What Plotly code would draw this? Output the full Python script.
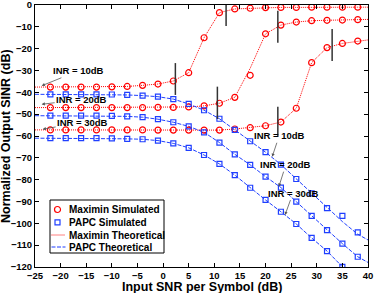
import plotly.graph_objects as go

# ---------------- data ----------------
snr = [-22, -19, -16, -13, -10, -7, -4, -1, 2, 5, 8, 11, 14, 17, 20, 23, 26, 29, 32, 35, 38]

maximin_sim_inr10 = [-37.6, -37.6, -37.6, -37.6, -37.5, -37.3, -36.8, -36.2, -34.8, -31.0, -15.0,
                     -3.5, -1.8, -1.5, -1.2, -1.1, -1.1, -1.0, -1.0, -1.0, -1.0]
maximin_sim_inr20 = [-47.0, -47.0, -47.0, -47.0, -47.0, -47.0, -47.0, -46.9, -46.9, -46.7, -46.2,
                     -45.0, -42.3, -32.2, -13.2, -9.2, -7.8, -7.2, -7.0, -6.9, -6.7]
maximin_sim_inr30 = [-57.2, -57.2, -57.2, -57.2, -57.2, -57.2, -57.2, -57.3, -57.3, -57.3, -57.3,
                     -57.3, -56.8, -56.2, -55.3, -53.6, -47.3, -26.4, -19.5, -17.6, -16.5]

papc_sim_inr10 = [-40.9, -40.9, -40.9, -40.9, -41.0, -41.2, -41.5, -42.0, -43.1, -45.3, -48.2,
                  -52.1, -57.2, -62.4, -67.4, -73.1, -79.7, -86.3, -93.0, -96.6, -104.1]
papc_sim_inr20 = [-50.7, -50.7, -50.7, -50.7, -50.8, -51.0, -51.4, -52.3, -53.7, -55.6, -58.3,
                  -63.0, -68.4, -73.2, -78.6, -83.6, -90.1, -96.6, -103.1, -109.3, -115.3]
papc_sim_inr30 = [-61.0, -61.0, -61.0, -61.0, -61.1, -61.3, -61.5, -62.1, -63.4, -65.4, -68.7,
                  -72.8, -77.9, -83.7, -89.3, -94.7, -100.3, -106.7, -112.7, -119.9, -126.0]

theory_snr = [-25, -22, -19, -16, -13, -10, -7, -4, -1, 2, 5, 8, 11, 14, 17, 20, 23, 26, 29, 32, 35, 38, 40]
maximin_th_inr10 = [-37.6, -37.6, -37.6, -37.6, -37.6, -37.5, -37.3, -36.8, -36.2, -34.8, -31.0, -15.0,
                    -3.5, -1.8, -1.5, -1.2, -1.1, -1.1, -1.0, -1.0, -1.0, -1.0, -1.0]
maximin_th_inr20 = [-47.0, -47.0, -47.0, -47.0, -47.0, -47.0, -47.0, -47.0, -46.9, -46.9, -46.7, -46.2,
                    -45.0, -42.3, -29.0, -13.2, -9.2, -7.8, -7.2, -7.0, -6.9, -6.7, -6.6]
maximin_th_inr30 = [-57.2, -57.2, -57.2, -57.2, -57.2, -57.2, -57.2, -57.2, -57.3, -57.3, -57.3, -57.3,
                    -57.3, -56.8, -56.2, -55.3, -53.6, -47.3, -26.4, -19.5, -17.6, -16.5, -16.0]
papc_th_inr10 = [-40.9, -40.9, -40.9, -40.9, -40.9, -41.0, -41.2, -41.5, -42.0, -43.1, -45.3, -48.2,
                 -52.1, -57.2, -62.4, -67.4, -73.1, -79.7, -86.3, -93.0, -99.2, -105.0, -107.6]
papc_th_inr20 = [-50.7, -50.7, -50.7, -50.7, -50.7, -50.8, -51.0, -51.4, -52.3, -53.7, -55.6, -58.3,
                 -63.0, -68.4, -73.2, -78.6, -83.6, -90.1, -96.6, -103.1, -109.3, -115.3, -117.9]
papc_th_inr30 = [-61.0, -61.0, -61.0, -61.0, -61.0, -61.1, -61.3, -61.5, -62.1, -63.4, -65.4, -68.7,
                 -72.8, -77.9, -83.7, -89.3, -94.7, -100.3, -106.7, -112.7, -119.9, -126.0, -130.0]

# threshold marker segments: x, y_top, y_bottom
thr_x = [2.4, 12.3, 22.4, 33.0, 10.6, 22.4]
thr_y0 = [-26.6, 0.0, -2.6, -11.0, -37.4, -46.6]
thr_y1 = [-41.2, -9.6, -17.3, -25.6, -52.2, -60.2]

# INR labels: head x, head y, text offset px (ax, ay)
inr_labels = ["INR = 10dB", "INR = 20dB", "INR = 30dB", "INR = 10dB", "INR = 20dB", "INR = 30dB"]
inr_head_x = [-23.7, -23.7, -23.5, 21.3, 22.6, 23.8]
inr_head_y = [-37.0, -45.5, -56.9, -69.5, -83.2, -96.2]
inr_ax = [37, 40, 40, 7, 7, 8]
inr_ay = [-15, -5, -7, -21, -22, -22]

legend_names = ["Maximin Simulated", "PAPC Simulated", "Maximin Theoretical", "PAPC Theoretical"]

RED = "#ff0000"
BLUE = "#1f3fff"
RED_DASH = "1px,1px"
BLUE_DASH = "4px,1.5px"
FONT = "Liberation Sans, Arial, sans-serif"

fig = go.Figure()

# theoretical lines (drawn first, underneath markers)
for ys in [maximin_th_inr10, maximin_th_inr20, maximin_th_inr30]:
    fig.add_trace(go.Scatter(x=theory_snr, y=ys, mode="lines", name=legend_names[2],
                             line=dict(color=RED, width=1, dash=RED_DASH), showlegend=False))
for ys in [papc_th_inr10, papc_th_inr20, papc_th_inr30]:
    fig.add_trace(go.Scatter(x=theory_snr, y=ys, mode="lines", name=legend_names[3],
                             line=dict(color=BLUE, width=1, dash=BLUE_DASH), showlegend=False))

for ys in [maximin_sim_inr10, maximin_sim_inr20, maximin_sim_inr30]:
    fig.add_trace(go.Scatter(x=snr, y=ys, mode="markers", name=legend_names[0],
                             marker=dict(symbol="circle-open", size=6, color=RED, line=dict(width=1.2)),
                             showlegend=False))
for ys in [papc_sim_inr10, papc_sim_inr20, papc_sim_inr30]:
    fig.add_trace(go.Scatter(x=snr, y=ys, mode="markers", name=legend_names[1],
                             marker=dict(symbol="square-open", size=5, color=BLUE, line=dict(width=1.2)),
                             showlegend=False))

# threshold segments
for x, y0, y1 in zip(thr_x, thr_y0, thr_y1):
    fig.add_shape(type="line", x0=x, x1=x, y0=y0, y1=y1, xref="x", yref="y",
                  line=dict(color="#333333", width=1.5))

for t, hx, hy, ax, ay in zip(inr_labels, inr_head_x, inr_head_y, inr_ax, inr_ay):
    fig.add_annotation(x=hx, y=hy, xref="x", yref="y", text=t, showarrow=True,
                       ax=ax, ay=ay, arrowhead=2, arrowsize=0.8, arrowwidth=0.8,
                       arrowcolor="#555555",
                       font=dict(family=FONT, size=9.5, color="black", weight="bold"))

# ---- compact MATLAB-style legend box (drawn with shapes + text) ----
PW, PH, L, B = 333.0, 262.0, 35.0, 267.0  # plot-area size and origin in px


def px(xp):
    return (xp - L) / PW


def py(yp):
    return (B - yp) / PH


fig.add_shape(type="rect", xref="paper", yref="paper", x0=px(50), x1=px(164), y0=py(253), y1=py(200),
              line=dict(color="black", width=1), fillcolor="white", layer="above")
row_y = [209.5, 222.3, 235.0, 247.0]
sym_x = px(57.5)
for i, (name, ry) in enumerate(zip(legend_names, row_y)):
    yc = py(ry)
    if i == 0:
        fig.add_shape(type="circle", xref="paper", yref="paper", xsizemode="pixel", ysizemode="pixel",
                      xanchor=sym_x, yanchor=yc, x0=-3, x1=3, y0=-3, y1=3,
                      line=dict(color=RED, width=1.2), layer="above")
    elif i == 1:
        fig.add_shape(type="rect", xref="paper", yref="paper", xsizemode="pixel", ysizemode="pixel",
                      xanchor=sym_x, yanchor=yc, x0=-2.5, x1=2.5, y0=-2.5, y1=2.5,
                      line=dict(color=BLUE, width=1.2), layer="above")
    else:
        col = RED if i == 2 else BLUE
        fig.add_shape(type="line", xref="paper", yref="paper", x0=px(51.5), x1=px(65.5), y0=yc, y1=yc,
                      line=dict(color=col, width=1, dash=RED_DASH if i == 2 else BLUE_DASH), layer="above")
    fig.add_annotation(x=px(66.5), y=yc, xref="paper", yref="paper", text=name, showarrow=False,
                       xanchor="left", yanchor="middle",
                       font=dict(family=FONT, size=10, color="black", weight="bold"))

# axis titles
fig.add_annotation(x=px(202), y=0.0, xref="paper", yref="paper",
                   text="Input SNR per Symbol (dB)", showarrow=False, yanchor="top", yshift=-11,
                   font=dict(family=FONT, size=12.5, color="black", weight="bold"))
fig.add_annotation(x=0, y=py(136), xref="paper", yref="paper", textangle=-90,
                   text="Normalized Output SINR (dB)", showarrow=False, xanchor="right", xshift=-20,
                   font=dict(family=FONT, size=12.5, color="black", weight="bold"))

axis_common = dict(showline=True, linecolor="black", linewidth=1, mirror="ticks",
                   ticks="inside", ticklen=4, tickcolor="black", showgrid=False, zeroline=False,
                   ticklabeloverflow="allow",
                   tickfont=dict(family=FONT, size=9.5, color="black", weight="bold"))

fig.update_layout(
    width=374, height=293,
    margin=dict(l=35, r=6, t=5, b=26),
    paper_bgcolor="white", plot_bgcolor="white",
    xaxis=dict(range=[-25, 40], dtick=5, tick0=-25, automargin=False, **axis_common),
    yaxis=dict(range=[-120, 0], dtick=10, automargin=False, **axis_common),
    showlegend=False,
)

fig.write_html("out.html", config={"displayModeBar": False},
               post_script="document.body.style.margin='0';")
